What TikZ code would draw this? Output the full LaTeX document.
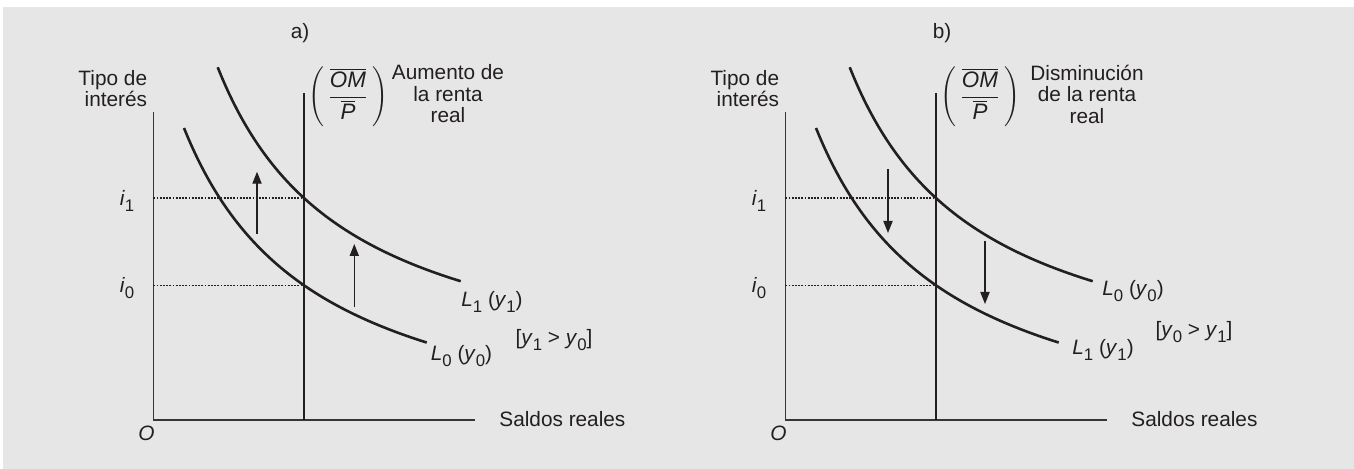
\documentclass[tikz,border=0pt]{standalone}
\usepackage{fontspec}
\setmainfont{Liberation Sans}
\usetikzlibrary{arrows.meta}
\definecolor{bg}{HTML}{E6E6E6}
\definecolor{ink}{HTML}{231F20}
\newcommand\sbx[1]{\raisebox{-0.6ex}{\fontsize{8.4}{9}\selectfont #1}}
\newcommand\iv[1]{\textit{#1}}
\newcommand\fracOMP{$\displaystyle\left(\,\frac{\overline{\mbox{\itshape OM}}}{\overline{\mbox{\itshape P}}}\,\right)$}
\tikzset{
  curve/.style={line width=1.3pt, draw=ink},
  axis/.style={line width=0.75pt, draw=ink!90},
  mline/.style={line width=1.15pt, draw=ink},
  guide/.style={line width=0.55pt, dash pattern=on 0.9pt off 0.7pt, draw=ink},
  shiftarrow/.style={line width=0.65pt, draw=ink, fill=ink, -{Triangle[length=6pt,width=4.6pt]}},
  lbl/.style={font=\fontsize{10.4}{10.75}\selectfont, text=ink, inner sep=0pt},
}
% common skeleton of a panel; #1 = suffix for names
\newcommand\panelskel[1]{%
  \coordinate (O#1) at (153.3,420);
  \coordinate (ytop#1) at (153.3,112);
  \coordinate (xend#1) at (475,420);
  \coordinate (mtop#1) at (304,93);
  \coordinate (mbot#1) at (304,420);
  \coordinate (g1a#1) at (153.3,198);
  \coordinate (g1b#1) at (304,198);
  \coordinate (g0a#1) at (153.3,285.5);
  \coordinate (g0b#1) at (304,285.5);
  \draw[axis] (ytop#1) -- (O#1) -- (xend#1);
  \draw[guide] (g1a#1) -- (g1b#1);
  \draw[guide] (g0a#1) -- (g0b#1);
  \draw[mline] (mtop#1) -- (mbot#1);
  \draw[curve] plot[domain=217.7:460.7, samples=60, smooth] (\x, {396.4 - 100*(430.53/(\x-86.9))});
  \draw[curve] plot[domain=184:426.7, samples=60, smooth] (\x, {461 - 100*(446.22/(\x-50))});
  \node[lbl] (i1#1) at (127,201) {\iv{i}\sbx{1}};
  \node[lbl] (i0#1) at (127,288) {\iv{i}\sbx{0}};
  \node[lbl] (O#1lab) at (146.5,433) {\iv{O}};
  \node[lbl, anchor=west] (sr#1) at (499,419) {Saldos reales};
  \node[lbl, align=right, anchor=east] (ti#1) at (147.5,88.5) {Tipo de\\interés};
  \node[lbl, font=\fontsize{11.2}{12}\selectfont] (fr#1) at (348,97) {\fracOMP};
}
\begin{document}
\begin{tikzpicture}[x=0.5pt, y=-0.5pt]
  \useasboundingbox (0,0) rectangle (1354,469);
  \fill[bg] (3,7) rectangle (1354,469);

  % ---------- panel a ----------
  \begin{scope}
    \panelskel{a}
    \node[lbl] (ta) at (300,33) {a)};
    \node[lbl, align=center] (txa) at (448,94) {Aumento de\\la renta\\real};
    \node[lbl] (L1a) at (492,302) {\iv{L}\sbx{1} (\iv{y}\sbx{1})};
    \node[lbl] (L0a) at (461.5,356) {\iv{L}\sbx{0} (\iv{y}\sbx{0})};
    \node[lbl] (cmpa) at (554,340) {[\iv{y}\sbx{1} > \iv{y}\sbx{0}]};
    \coordinate (a1s) at (257,234);
    \coordinate (a1e) at (257,171.7);
    \coordinate (a2s) at (354.3,306.7);
    \coordinate (a2e) at (354.3,244);
    \draw[shiftarrow] (a1s) -- (a1e);
    \draw[shiftarrow] (a2s) -- (a2e);
  \end{scope}

  % ---------- panel b ----------
  \begin{scope}[shift={(632,0)}]
    \panelskel{b}
    \node[lbl] (tb) at (310,33) {b)};
    \node[lbl, align=center] (txb) at (455,94) {Disminución\\de la renta\\real};
    \node[lbl] (L0b) at (501,291) {\iv{L}\sbx{0} (\iv{y}\sbx{0})};
    \node[lbl] (L1b) at (471,350) {\iv{L}\sbx{1} (\iv{y}\sbx{1})};
    \node[lbl] (cmpb) at (562,332) {[\iv{y}\sbx{0} > \iv{y}\sbx{1}]};
    \coordinate (b1s) at (256,169);
    \coordinate (b1e) at (256,233);
    \coordinate (b2s) at (353,241);
    \coordinate (b2e) at (353,304);
    \draw[shiftarrow] (b1s) -- (b1e);
    \draw[shiftarrow] (b2s) -- (b2e);
  \end{scope}
\end{tikzpicture}
\end{document}
